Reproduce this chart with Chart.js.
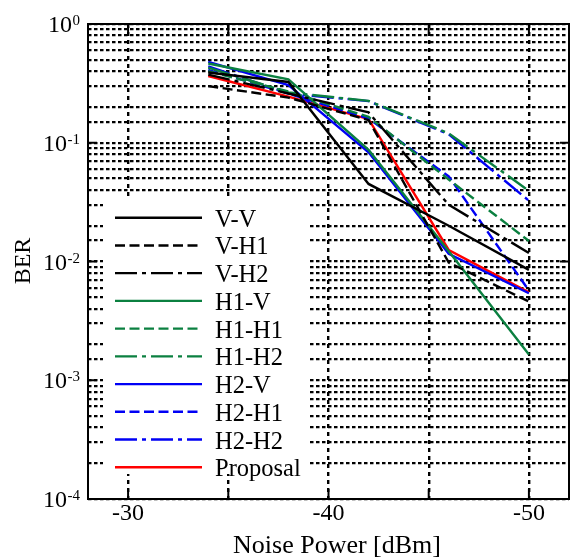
<!DOCTYPE html>
<html><head><meta charset="utf-8">
<script src="https://cdn.jsdelivr.net/npm/chart.js@4"></script>
<style>html,body{margin:0;padding:0;background:#fff}#wrap{width:572px;height:560px;position:relative}</style>
</head><body><div id="wrap"><canvas id="c"></canvas></div>
<script>
// ---- data ----
const noisePower = [-34, -38, -42, -46, -50];
const berVV   = [0.39, 0.325, 0.045, 0.020, 0.0085];
const berVH1  = [0.30, 0.24, 0.155, 0.0098, 0.0046];
const berVH2  = [0.375, 0.26, 0.18, 0.030, 0.0118];
const berH1V  = [0.465, 0.342, 0.087, 0.0122, 0.00165];
const berH1H1 = [0.40, 0.27, 0.165, 0.049, 0.0149];
const berH1H2 = [0.43, 0.265, 0.225, 0.12, 0.0394];
const berH2V  = [0.48, 0.306, 0.083, 0.0116, 0.0054];
const berH2H1 = [0.41, 0.26, 0.16, 0.052, 0.0057];
const berH2H2 = [0.44, 0.26, 0.224, 0.118, 0.0325];
const berProposal = [0.365, 0.245, 0.158, 0.0125, 0.0055];
const seriesNames = ['V-V','V-H1','V-H2','H1-V','H1-H1','H1-H2','H2-V','H2-H1','H2-H2','Proposal'];
const xTickLabels = ['-30', '-40', '-50'];
const yTickExponents = ['0', '-1', '-2', '-3', '-4'];
const xTitle = 'Noise Power [dBm]';
const yTitle = 'BER';

const FONT = '"Liberation Serif","Times New Roman",serif';
const BLACK = '#000000', GREEN = '#0b8040', BLUE = '#0000f5', RED = '#ff0000';
const SOLID = [], DASH = [10, 4.5], DASHDOT = [22, 5, 4, 5];

const seriesValues = [berVV, berVH1, berVH2, berH1V, berH1H1, berH1H2, berH2V, berH2H1, berH2H2, berProposal];
const seriesColors = [BLACK, BLACK, BLACK, GREEN, GREEN, GREEN, BLUE, BLUE, BLUE, RED];
const seriesDashes = [SOLID, DASH, DASHDOT, SOLID, DASH, DASHDOT, SOLID, DASH, DASHDOT, SOLID];

const datasets = seriesNames.map((name, i) => ({
  label: name,
  data: noisePower.map((x, j) => ({ x: x, y: seriesValues[i][j] })),
  borderColor: seriesColors[i],
  backgroundColor: seriesColors[i],
  borderDash: seriesDashes[i],
  borderWidth: 2.4,
  pointRadius: 0,
  tension: 0,
  fill: false
}));

const decorPlugin = {
  id: 'decor',
  afterDraw(chart) {
    const { ctx, chartArea: a, scales: { x, y } } = chart;
    ctx.save();
    const line = (x1, y1, x2, y2) => { ctx.beginPath(); ctx.moveTo(x1, y1); ctx.lineTo(x2, y2); ctx.stroke(); };

    // legend
    ctx.fillStyle = '#fff';
    ctx.fillRect(a.left + 15, 197, 205, 277);
    chart.data.datasets.forEach((ds, i) => {
      const ly = 217.7 + i * 27.73;
      ctx.strokeStyle = ds.borderColor;
      ctx.lineWidth = 2.4;
      ctx.setLineDash(ds.borderDash);
      line(115, ly, 202, ly);
      ctx.setLineDash([]);
      ctx.fillStyle = '#000';
      ctx.font = '24.5px ' + FONT;
      ctx.textAlign = 'left';
      ctx.textBaseline = 'alphabetic';
      ctx.fillText(ds.label, 215, ly + 9);
    });

    // frame
    ctx.setLineDash([]);
    ctx.strokeStyle = '#000';
    ctx.lineWidth = 2;
    ctx.strokeRect(a.left, a.top, a.right - a.left, a.bottom - a.top);

    // major ticks
    yTickExponents.forEach(e => {
      const py = y.getPixelForValue(Math.pow(10, Number(e)));
      line(a.left, py, a.left + 9, py);
      line(a.right - 9, py, a.right, py);
    });
    x.ticks.forEach(t => {
      const px = x.getPixelForValue(t.value);
      line(px, a.bottom, px, a.bottom - 10);
      line(px, a.top, px, a.top + 10);
    });

    // y tick labels 10^e
    ctx.fillStyle = '#000';
    ctx.textAlign = 'right';
    ctx.textBaseline = 'alphabetic';
    yTickExponents.forEach(e => {
      const py = y.getPixelForValue(Math.pow(10, Number(e)));
      ctx.font = '15px ' + FONT;
      const supW = ctx.measureText(e).width;
      ctx.fillText(e, 80, py + 1);
      ctx.font = '24px ' + FONT;
      ctx.fillText('10', 80 - supW - 0.5, py + 8);
    });

    // axis titles
    ctx.font = '26px ' + FONT;
    ctx.textAlign = 'center';
    ctx.fillText(xTitle, 337, 553);
    ctx.save();
    ctx.translate(22, 261);
    ctx.rotate(-Math.PI / 2);
    ctx.font = '24px ' + FONT;
    ctx.fillText(yTitle, 0, 8);
    ctx.restore();

    ctx.restore();
  }
};

new Chart(document.getElementById('c'), {
  type: 'line',
  data: { datasets },
  options: {
    responsive: true,
    maintainAspectRatio: false,
    animation: false,
    layout: { padding: { top: 24, right: 3, left: 0, bottom: 0 } },
    plugins: { legend: { display: false }, tooltip: { enabled: false } },
    scales: {
      x: {
        type: 'linear',
        reverse: true,
        min: -52, max: -28,
        ticks: {
          stepSize: 5,
          includeBounds: false,
          autoSkip: false,
          maxRotation: 0,
          padding: 3,
          color: '#000',
          font: { family: FONT, size: 24, lineHeight: 1 },
          callback: v => xTickLabels.includes(String(v)) ? String(v) : ''
        },
        grid: { color: '#000', lineWidth: 2.4, drawTicks: false },
        border: { display: false, dash: [4, 4] },
        afterFit: s => { s.height = 61; }
      },
      y: {
        type: 'logarithmic',
        min: 1e-4, max: 1,
        ticks: { display: false },
        grid: { color: '#000', lineWidth: 2.2, drawTicks: false },
        border: { display: false, dash: [3.5, 2.5] },
        afterFit: s => { s.width = 88; }
      }
    }
  },
  plugins: [decorPlugin]
});
</script>
</body></html>
